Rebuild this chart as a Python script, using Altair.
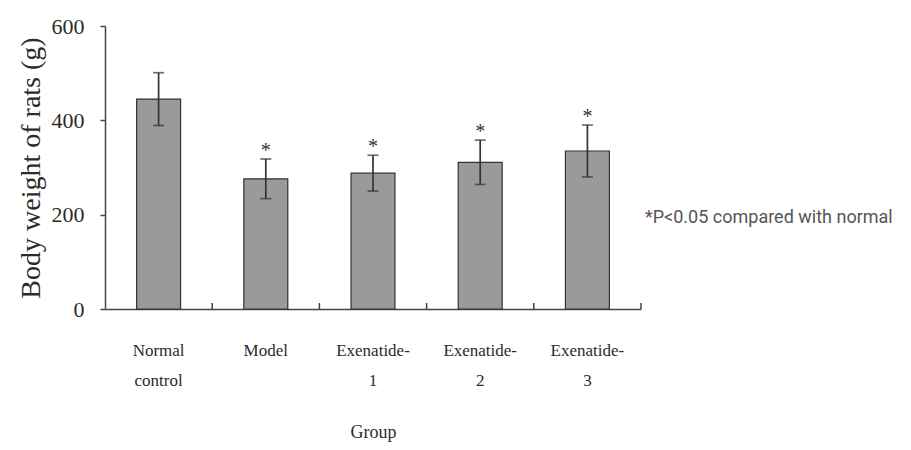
import altair as alt
import pandas as pd

groups = ["Normal|control", "Model", "Exenatide-|1", "Exenatide-|2", "Exenatide-|3"]
means = [445, 276, 288, 311, 335]
sds = [56, 42, 38, 47, 55]
sig = ["", "*", "*", "*", "*"]
y_ticks = [0, 200, 400, 600]
note = ["*P<0.05 compared with normal"]

df = pd.DataFrame({"group": groups, "mean": means, "sd": sds, "sig": sig})
df["lo"] = df["mean"] - df["sd"]
df["hi"] = df["mean"] + df["sd"]

SERIF = "Liberation Serif"
INK = "#2b2b2b"
H = 283

xscale = alt.Scale(paddingInner=0, paddingOuter=0)
yscale = alt.Scale(domain=[0, 600], nice=False)

x_enc = alt.X(
    "group:N", sort=groups, scale=xscale, title="Group",
    axis=alt.Axis(
        labelExpr="split(datum.label, '|')", labelAngle=0, labelFont=SERIF,
        labelFontSize=17, labelColor=INK, labelLineHeight=30, labelPadding=33,
        ticks=False, grid=False, domain=True, domainColor="#444", domainWidth=1.5,
        titleFont=SERIF, titleFontSize=18, titleFontWeight="normal", titleColor=INK,
        titlePadding=35,
    ),
)
x_plain = alt.X("group:N", sort=groups, scale=xscale)
y_enc = alt.Y(
    "mean:Q", scale=yscale, title="Body weight of rats (g)",
    axis=alt.Axis(
        values=y_ticks, grid=False, labelFont=SERIF, labelFontSize=22, labelColor=INK,
        labelPadding=16, tickSize=5, tickColor="#444", tickWidth=1.5,
        domainColor="#444", domainWidth=1.5,
        titleFont=SERIF, titleFontSize=28, titleFontWeight="normal", titleColor=INK,
        titlePadding=6,
    ),
)

base = alt.Chart(df)

bars = base.mark_bar(
    color="#9a9a9a", stroke="#333333", strokeWidth=1.2, width=alt.RelativeBandSize(0.41)
).encode(x=x_enc, y=y_enc)
sep_ticks = base.mark_rule(color="#444444", strokeWidth=1.5, y2Offset=-6).encode(
    x=alt.X("group:N", sort=groups, scale=xscale, bandPosition=1),
    y=alt.datum(0, scale=yscale), y2=alt.datum(0),
)
err = base.mark_rule(color="#333333", strokeWidth=1.7).encode(
    x=x_plain, y=alt.Y("lo:Q", scale=yscale), y2="hi:Q"
)
cap_hi = base.mark_tick(color="#333333", size=11, thickness=1.7).encode(
    x=x_plain, y=alt.Y("hi:Q", scale=yscale)
)
cap_lo = base.mark_tick(color="#333333", size=11, thickness=1.7).encode(
    x=x_plain, y=alt.Y("lo:Q", scale=yscale)
)
stars = base.mark_text(font=SERIF, fontSize=20, color="#333333", baseline="alphabetic", dy=-2).encode(
    x=x_plain, y=alt.Y("hi:Q", scale=yscale), text="sig:N"
)
ann = alt.Chart(pd.DataFrame({"t": note})).mark_text(
    align="left", baseline="middle", font="Roboto", fontSize=18, color="#555555"
).encode(x=alt.value(540), y=alt.value(192), text="t:N")

chart = alt.layer(bars, sep_ticks, err, cap_hi, cap_lo, stars, ann).properties(
    width=536, height=H,
    autosize=alt.AutoSizeParams(type="none"),
    padding={"left": 97, "top": 18, "right": 262, "bottom": 133},
).configure_view(stroke=None)

chart.save("out.html", embed_options={"renderer": "svg", "actions": False})
